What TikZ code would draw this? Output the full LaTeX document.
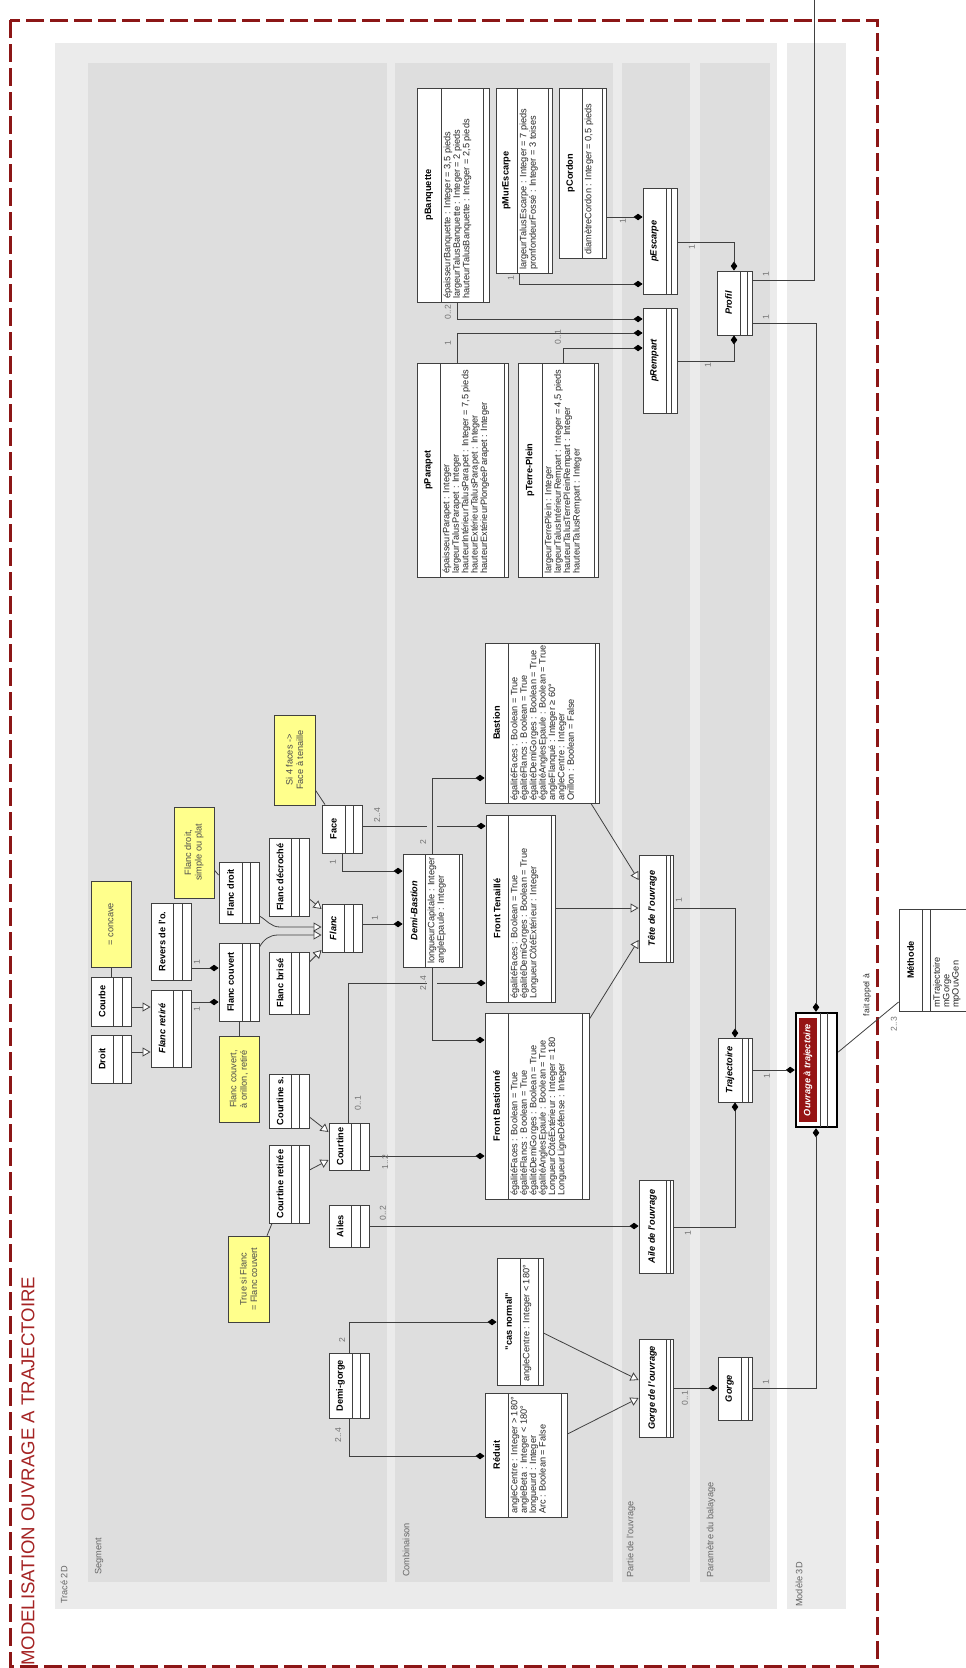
\documentclass[tikz,border=0pt]{standalone}
\usepackage{fontspec}
\setmainfont{Liberation Sans}
\usetikzlibrary{arrows.meta,fit}
\definecolor{framered}{RGB}{140,22,22}
\definecolor{titlered}{RGB}{165,35,35}
\definecolor{panelgray}{RGB}{235,235,235}
\definecolor{lanegray}{RGB}{222,222,222}
\definecolor{noteyellow}{RGB}{255,255,140}
\definecolor{linegray}{RGB}{64,64,64}
\definecolor{ouvred}{RGB}{150,20,20}
\newcommand\fsz[2]{\fontsize{#1}{#2}\selectfont}
% id, x1, y1, x2, y2, divider1 x, divider2 x, name style, name
\newcommand\ucls[9]{%
  \node[clsbox, fit={(#2,#3) (#4,#5)}] (#1) {};
  \draw[divl] (#6,#3) -- (#6,#5);
  \draw[divl] (#7,#3) -- (#7,#5);
  \node[#8] at ({(#2+#6)/2},{(#3+#5)/2}) {#9};
}
% id, x1, y1, x2, y2, text
\newcommand\unote[6]{%
  \node[notebox, fit={(#2,#3) (#4,#5)}] (#1) {};
  \node[notetxt] at (#1.center) {#6};
}
\begin{document}
\begin{tikzpicture}[x=1pt, y=-1pt,
  clsbox/.style={draw=linegray, fill=white, line width=0.9pt, inner sep=0pt},
  divl/.style={draw=linegray, line width=0.7pt},
  nametxt/.style={rotate=90, font=\fsz{9.2}{10}\bfseries, inner sep=0pt},
  anametxt/.style={rotate=90, font=\fsz{9.2}{10}\bfseries\itshape, inner sep=0pt},
  attrtxt/.style={rotate=90, font=\fsz{9.2}{9.4}, align=left, inner sep=0pt, anchor=north west, text=black!85},
  notebox/.style={draw=linegray, fill=noteyellow, line width=0.7pt, inner sep=0pt},
  notetxt/.style={rotate=90, font=\fsz{9.2}{10.5}, align=center, text=black!70, inner sep=0pt},
  mult/.style={rotate=90, font=\fsz{8.6}{9}, text=black!55, inner sep=0pt},
  lanelbl/.style={rotate=90, font=\fsz{9.2}{10}, text=black!60, anchor=west, inner sep=0pt},
  conn/.style={draw=linegray, line width=0.8pt},
  gen/.style={conn, -{Triangle[open, length=8pt, width=9pt, fill=white]}},
  comp/.style={conn, -{Diamond[length=9pt, width=6.5pt, fill=black, color=black]}},
]
\useasboundingbox (0,0) rectangle (966,1668);
\clip (0,0) rectangle (966,1668);
\fill[white] (0,0) rectangle (966,1668);

% ---------------- panels and lanes
\fill[panelgray] (55,43) rectangle (777,1609);
\fill[panelgray] (787,43) rectangle (846,1609);
\fill[lanegray] (88,63) rectangle (387,1582);
\fill[lanegray] (395,63) rectangle (613,1582);
\fill[lanegray] (622,63) rectangle (690,1582);
\fill[lanegray] (700,63) rectangle (770,1582);
\node[lanelbl] (lTrace) at (64,1604) {Tracé 2D};
\node[lanelbl] (lSeg) at (99,1575) {Segment};
\node[lanelbl] (lComb) at (406,1577) {Combinaison};
\node[lanelbl] (lPart) at (631,1578) {Partie de l'ouvrage};
\node[lanelbl] (lParam) at (711,1578) {Paramètre du balayage};
\node[lanelbl] (lMod) at (799,1607) {Modèle 3D};

% ---------------- frame and title
\draw[framered, line width=3pt, dash pattern=on 18pt off 6pt] (10,20) rectangle (877,1666);
\node[rotate=90, anchor=west, inner sep=0pt, font=\fsz{18.6}{20}, text=titlered] (title) at (28,1666) {MODELISATION OUVRAGE A TRAJECTOIRE};

% ---------------- Segment lane
\ucls{droit}{91}{1035}{131}{1083}{113}{122}{nametxt}{Droit}
\ucls{courbe}{91}{977}{131}{1026}{113}{122}{nametxt}{Courbe}
\unote{concave}{91}{881}{131}{967}{= concave}
\ucls{flancret}{151}{990}{191}{1067}{173}{182}{anametxt}{Flanc retiré}
\ucls{revers}{151}{903}{191}{980}{173}{182}{nametxt}{Revers de l'o.}
\ucls{flanccouv}{219}{943}{259}{1021}{242}{250}{nametxt}{Flanc couvert}
\ucls{flancdroit}{219}{862}{259}{923}{242}{250}{nametxt}{Flanc droit}
\unote{ndroit}{174}{807}{214}{898}{Flanc droit,\\simple ou plat}
\unote{ncouv}{219}{1036}{259}{1122}{Flanc couvert,\\à orillon, retiré}
\ucls{flancdec}{269}{838}{309}{916}{291}{299}{nametxt}{Flanc décroché}
\ucls{flancbrise}{269}{952}{309}{1014}{291}{299}{nametxt}{Flanc brisé}
\ucls{flanc}{322}{904}{362}{952}{344}{353}{anametxt}{Flanc}
\ucls{face}{322}{805}{362}{853}{345}{353}{nametxt}{Face}
\unote{nface}{274}{715}{315}{805}{Si 4 faces ->\\Face à tenaille}
\ucls{courtines}{269}{1074}{309}{1128}{291}{299}{nametxt}{Courtine s.}
\ucls{courtineret}{269}{1145}{309}{1223}{291}{299}{nametxt}{Courtine retirée}
\ucls{courtine}{329}{1123}{369}{1170}{351}{360}{nametxt}{Courtine}
\unote{ntrue}{228}{1236}{269}{1322}{True si Flanc\\= Flanc couvert}
\ucls{ailes}{329}{1205}{369}{1247}{351}{360}{nametxt}{Ailes}
\ucls{demigorge}{329}{1353}{369}{1418}{352}{360}{nametxt}{Demi-gorge}

% ---------------- Combinaison lane
\ucls{demibastion}{403}{854}{462}{967}{425}{459}{anametxt}{Demi-Bastion}
\node[attrtxt] at (427.5,964) {longueurCapitale : Integer\\angleEpaule : Integer};
\ucls{bastion}{485}{643}{599}{803}{508}{595}{nametxt}{Bastion}
\node[attrtxt] at (510.5,801) {égalitéFaces : Boolean = True\\égalitéFlancs : Boolean = True\\égalitéDemiGorges : Boolean = True\\égalitéAnglesEpaule : Boolean = True\\angleFlanqué : Integer ≥ 60°\\angleCentre : Integer\\Orillon : Boolean = False};
\ucls{fronttenaille}{486}{815}{555}{1002}{508}{551}{nametxt}{Front Tenaillé}
\node[attrtxt] at (510.5,999) {égalitéFaces : Boolean = True\\égalitéDemiGorges : Boolean = True\\LongueurCôtéExtérieur : Integer};
\ucls{frontbast}{485}{1013}{589}{1199}{508}{582}{nametxt}{Front Bastionné}
\node[attrtxt] at (510.5,1196) {égalitéFaces : Boolean = True\\égalitéFlancs : Boolean = True\\égalitéDemiGorges : Boolean = True\\égalitéAnglesEpaule : Boolean = True\\LongueurCôtéExtérieur : Integer = 180\\LongueurLigneDéfense : Integer};
\ucls{casnormal}{497}{1258}{543}{1385}{520}{538}{nametxt}{"cas normal"}
\node[attrtxt] at (522.5,1382) {angleCentre : Integer < 180°};
\ucls{reduit}{485}{1393}{567}{1517}{508}{561}{nametxt}{Réduit}
\node[attrtxt] at (510.5,1514) {angleCentre : Integer > 180°\\angleBeta : Integer < 180°\\longueurd : Integer\\Arc : Boolean = False};
\ucls{pbanquette}{417}{88}{489}{302}{441}{483}{nametxt}{pBanquette}
\node[attrtxt] at (443.5,299) {épaisseurBanquette : Integer = 3,5 pieds\\largeurTalusBanquette : Integer = 2 pieds\\hauteurTalusBanquette : Integer = 2,5 pieds};
\ucls{pmurescarpe}{496}{88}{552}{273}{517}{548}{nametxt}{pMurEscarpe}
\node[attrtxt] at (519.5,270) {largeurTalusEscarpe : Integer = 7 pieds\\pronfondeurFossé : Integer = 3 toises};
\ucls{pcordon}{559}{88}{606}{258}{582}{602}{nametxt}{pCordon}
\node[attrtxt] at (584.5,255) {diamètreCordon : Integer = 0,5 pieds};
\ucls{pparapet}{417}{363}{508}{577}{440}{504}{nametxt}{pParapet}
\node[attrtxt] at (442.5,574) {épaisseurParapet : Integer\\largeurTalusParapet : Integer\\hauteurIntérieurTalusParapet : Integer = 7,5 pieds\\hauteurExtérieurTalusParapet : Integer\\hauteurExtérieurPlongéeParapet : Integer};
\ucls{pterreplein}{518}{363}{598}{577}{542}{594}{nametxt}{pTerre-Plein}
\node[attrtxt] at (544.5,574) {largeurTerrePlein : Integer\\largeurTalusIntérieurRempart : Integer = 4,5 pieds\\hauteurTalusTerrePleinRempart : Integer\\hauteurTalusRempart : Integer};

% ---------------- Partie / Parametre lanes
\ucls{pescarpe}{643}{188}{677}{294}{666}{671}{anametxt}{pEscarpe}
\ucls{prempart}{643}{308}{677}{413}{666}{671}{anametxt}{pRempart}
\ucls{profil}{717}{271}{752}{335}{740}{747}{anametxt}{Profil}
\ucls{tete}{639}{855}{673}{962}{666}{670}{anametxt}{Tête de l'ouvrage}
\ucls{aile}{639}{1180}{673}{1273}{666}{670}{anametxt}{Aile de l'ouvrage}
\ucls{gorgeouv}{639}{1339}{673}{1437}{666}{670}{anametxt}{Gorge de l'ouvrage}
\ucls{trajectoire}{718}{1038}{752}{1102}{742}{748}{anametxt}{Trajectoire}
\ucls{gorge}{718}{1357}{752}{1420}{741}{748}{anametxt}{Gorge}

% ---------------- Ouvrage a trajectoire
\node[draw=black, fill=white, line width=2.5pt, inner sep=0pt, fit={(796,1013) (837,1127)}] (ouvrage) {};
\fill[ouvred] (799,1018) rectangle (817,1122);
\draw[divl] (820,1013) -- (820,1127);
\draw[divl] (827,1013) -- (827,1127);
\node[anametxt, text=white] at (808,1070) {Ouvrage à trajectoire};

% ---------------- Methode
\ucls{methode}{899}{909}{1000}{1011}{922}{930}{nametxt}{Méthode}
\node[attrtxt] at (933,1008) {mTrajectoire\\mGorge\\mpOuvGen};

% ---------------- note links
\draw[conn] (concave.south) -- (courbe.north);
\draw[conn] (ndroit.east |- 0,870) -- (flancdroit.west |- 0,875);
\draw[conn] (nface.east |- 0,790) -- (face.north -| 325,0);
\draw[conn] (flanccouv.south -| 239,0) -- (ncouv.north -| 239,0);
\draw[conn] (ntrue.north -| 267,0) -- (courtineret.south -| 272,0);

% ---------------- generalisations
\draw[gen] (courbe.east |- 0,1007) -- (flancret.west |- 0,1007);
\draw[gen] (droit.east |- 0,1052) -- (flancret.west |- 0,1052);
\draw[gen] (flancdec.east |- 0,899) -- (flanc.west |- 0,909);
\draw[gen] (flancdroit.east |- 0,916) to[out=-30, in=180] (280,927) -- (flanc.west |- 0,927);
\draw[gen] (flanccouv.east |- 0,947) to[out=60, in=180] (278,935) -- (flanc.west |- 0,935);
\draw[gen] (flancbrise.east |- 0,962) -- (flanc.west |- 0,950);
\draw[gen] (courtines.east |- 0,1117) -- (courtine.west |- 0,1132);
\draw[gen] (courtineret.east |- 0,1170) -- (courtine.west |- 0,1160);
\draw[gen] (bastion.south -| 591,0) -- (tete.west |- 0,880);
\draw[gen] (fronttenaille.east |- 0,908) -- (tete.west |- 0,908);
\draw[gen] (frontbast.east |- 0,1019) -- (tete.west |- 0,940);
\draw[gen] (casnormal.east |- 0,1333) -- (gorgeouv.west |- 0,1380);
\draw[gen] (reduit.east |- 0,1434) -- (gorgeouv.west |- 0,1398);

% ---------------- compositions
\draw[comp] (revers.east |- 0,968) -- (flanccouv.west |- 0,968);
\node[mult] at (197,962) {1};
\draw[comp] (flancret.east |- 0,1002) -- (flanccouv.west |- 0,1002);
\node[mult] at (197,1009) {1};
\draw[comp] (flanc.east |- 0,924) -- (demibastion.west |- 0,924);
\node[mult] at (375,918) {1};
\draw[comp] (face.south -| 342,0) |- (demibastion.west |- 0,871);
\node[mult] at (333,862) {1};
\draw[comp] (face.east |- 0,826) -- (fronttenaille.west |- 0,826);
\node[mult] at (377,815) {2..4};
\draw[comp] (courtine.north -| 348,0) |- (fronttenaille.west |- 0,983);
\node[mult] at (358,1103) {0..1};
% crossing gaps
\draw[lanegray, line width=2.5pt] (427,826) -- (437,826);
\draw[lanegray, line width=2.5pt] (427,983) -- (437,983);
\draw[comp] (demibastion.north -| 432,0) |- (bastion.west |- 0,778);
\node[mult] at (423,842) {2};
\draw[comp] (demibastion.south -| 432,0) |- (frontbast.west |- 0,1040);
\node[mult] at (423,983) {2..4};
\draw[comp] (courtine.east |- 0,1156) -- (frontbast.west |- 0,1156);
\node[mult] at (385,1162) {1..2};
\draw[comp] (ailes.east |- 0,1226) -- (aile.west |- 0,1226);
\node[mult] at (383,1213) {0..2};
\draw[comp] (demigorge.north -| 349,0) |- (casnormal.west |- 0,1322);
\node[mult] at (342,1340) {2};
\draw[comp] (demigorge.south -| 349,0) |- (reduit.west |- 0,1456);
\node[mult] at (338,1435) {2..4};
\draw[comp] (tete.east |- 0,908) -| (trajectoire.north -| 735,0);
\node[mult] at (679,900) {1};
\draw[comp] (aile.east |- 0,1227) -| (trajectoire.south -| 735,0);
\node[mult] at (688,1233) {1};
\draw[comp] (trajectoire.east |- 0,1070) -- (ouvrage.west |- 0,1070);
\node[mult] at (767,1076) {1};
\draw[comp] (gorgeouv.east |- 0,1388) -- (gorge.west |- 0,1388);
\node[mult] at (685,1398) {0..1};
\draw[comp] (gorge.east |- 0,1388) -| (ouvrage.south -| 816,0);
\node[mult] at (766,1382) {1};
\draw[comp] (profil.east |- 0,323) -| (ouvrage.north -| 816,0);
\node[mult] at (766,317) {1};
\coordinate (topexit) at (814,0);
\draw[conn] (profil.east |- 0,280) -| (topexit);
\node[mult] at (766,274) {1};
\draw[comp] (pcordon.east |- 0,217) -- (pescarpe.west |- 0,217);
\node[mult] at (623,221) {1};
\draw[comp] (pmurescarpe.south -| 519,0) |- (pescarpe.west |- 0,284);
\node[mult] at (511,278) {1};
\draw[comp] (pescarpe.east |- 0,242) -| (profil.north -| 734,0);
\node[mult] at (692,247) {1};
\draw[comp] (pbanquette.south -| 457,0) |- (prempart.west |- 0,319);
\node[mult] at (448,312) {0..2};
\draw[comp] (pparapet.north -| 457,0) |- (prempart.west |- 0,333);
\node[mult] at (448,343) {1};
\draw[comp] (pterreplein.north -| 563,0) |- (prempart.west |- 0,348);
\node[mult] at (558,337) {0..1};
\draw[comp] (prempart.east |- 0,361) -| (profil.south -| 734,0);
\node[mult] at (708,365) {1};

% ---------------- association to Methode
\draw[conn] (ouvrage.east |- 0,1052) -- (methode.west |- 0,1002);
\node[mult, text=black!80] at (867,995) {fait appel à};
\node[mult] at (894,1024) {2..3};
\end{tikzpicture}
\end{document}
